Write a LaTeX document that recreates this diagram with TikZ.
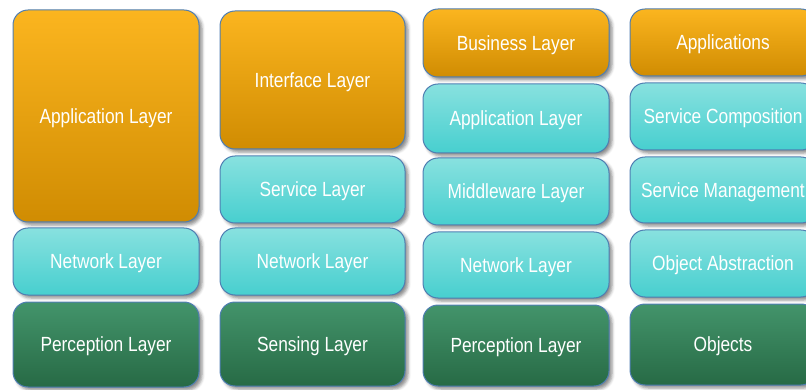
\documentclass[tikz,border=0pt]{standalone}
\usepackage{fontspec}
\newfontfamily\narrowsans[FakeStretch=0.845]{Liberation Sans}
\usetikzlibrary{shadows.blur}
\definecolor{orgtop}{HTML}{FBB51F}
\definecolor{orgbot}{HTML}{D08C02}
\definecolor{cyntop}{HTML}{88E1DF}
\definecolor{cynbot}{HTML}{47CFCF}
\definecolor{grntop}{HTML}{43946B}
\definecolor{grnbot}{HTML}{276A45}
\definecolor{edge}{HTML}{4F7EB2}
\tikzset{
  layer/.style={shape=rectangle, draw=edge, line width=1pt, rounded corners=15pt, inner sep=0pt,
    text=white, align=center, text height=14.5pt, text depth=0pt,
    font=\narrowsans\fontsize{20.5}{24}\selectfont,
    blur shadow={shadow xshift=3pt, shadow yshift=-3pt, shadow blur radius=3pt, shadow opacity=45}},
  toplayer/.style={layer, top color=orgtop, bottom color=orgbot},
  midlayer/.style={layer, top color=cyntop, bottom color=cynbot},
  baselayer/.style={layer, top color=grntop, bottom color=grnbot},
  box/.style n args={2}{minimum width=#1pt, minimum height=#2pt}
}
\begin{document}
\begin{tikzpicture}[x=1pt, y=-1pt]
\useasboundingbox (0,0) rectangle (806,390);
% first stack
\node[toplayer, box={186}{212}] (a1) at (106,116) {Application Layer};
\node[midlayer, box={186}{67}] (a2) at (106,261.5) {Network Layer};
\node[baselayer, box={186}{85}] (a3) at (106,344.5) {Perception Layer};
% second stack
\node[toplayer, box={185}{138}] (b1) at (312.5,80) {Interface Layer};
\node[midlayer, box={185}{67}] (b2) at (312.5,189.5) {Service Layer};
\node[midlayer, box={185}{67}] (b3) at (312.5,261.5) {Network Layer};
\node[baselayer, box={185}{84}] (b4) at (312.5,344) {Sensing Layer};
% third stack
\node[toplayer, box={186}{68}] (c1) at (516,43) {Business Layer};
\node[midlayer, box={186}{69}] (c2) at (516,118.5) {Application Layer};
\node[midlayer, box={186}{67}] (c3) at (516,191.5) {Middleware Layer};
\node[midlayer, box={186}{66}] (c4) at (516,265) {Network Layer};
\node[baselayer, box={186}{81}] (c5) at (516,345.5) {Perception Layer};
% fourth stack, running past the right edge of the page
\node[toplayer, box={186}{67}] (d1) at (723,42.5) {Applications};
\node[midlayer, box={186}{67}] (d2) at (723,116.5) {Service Composition};
\node[midlayer, box={186}{66}] (d3) at (723,190) {Service Management};
\node[midlayer, box={186}{67}] (d4) at (723,263.5) {Object Abstraction};
\node[baselayer, box={186}{81}] (d5) at (723,344.5) {Objects};
\end{tikzpicture}
\end{document}
